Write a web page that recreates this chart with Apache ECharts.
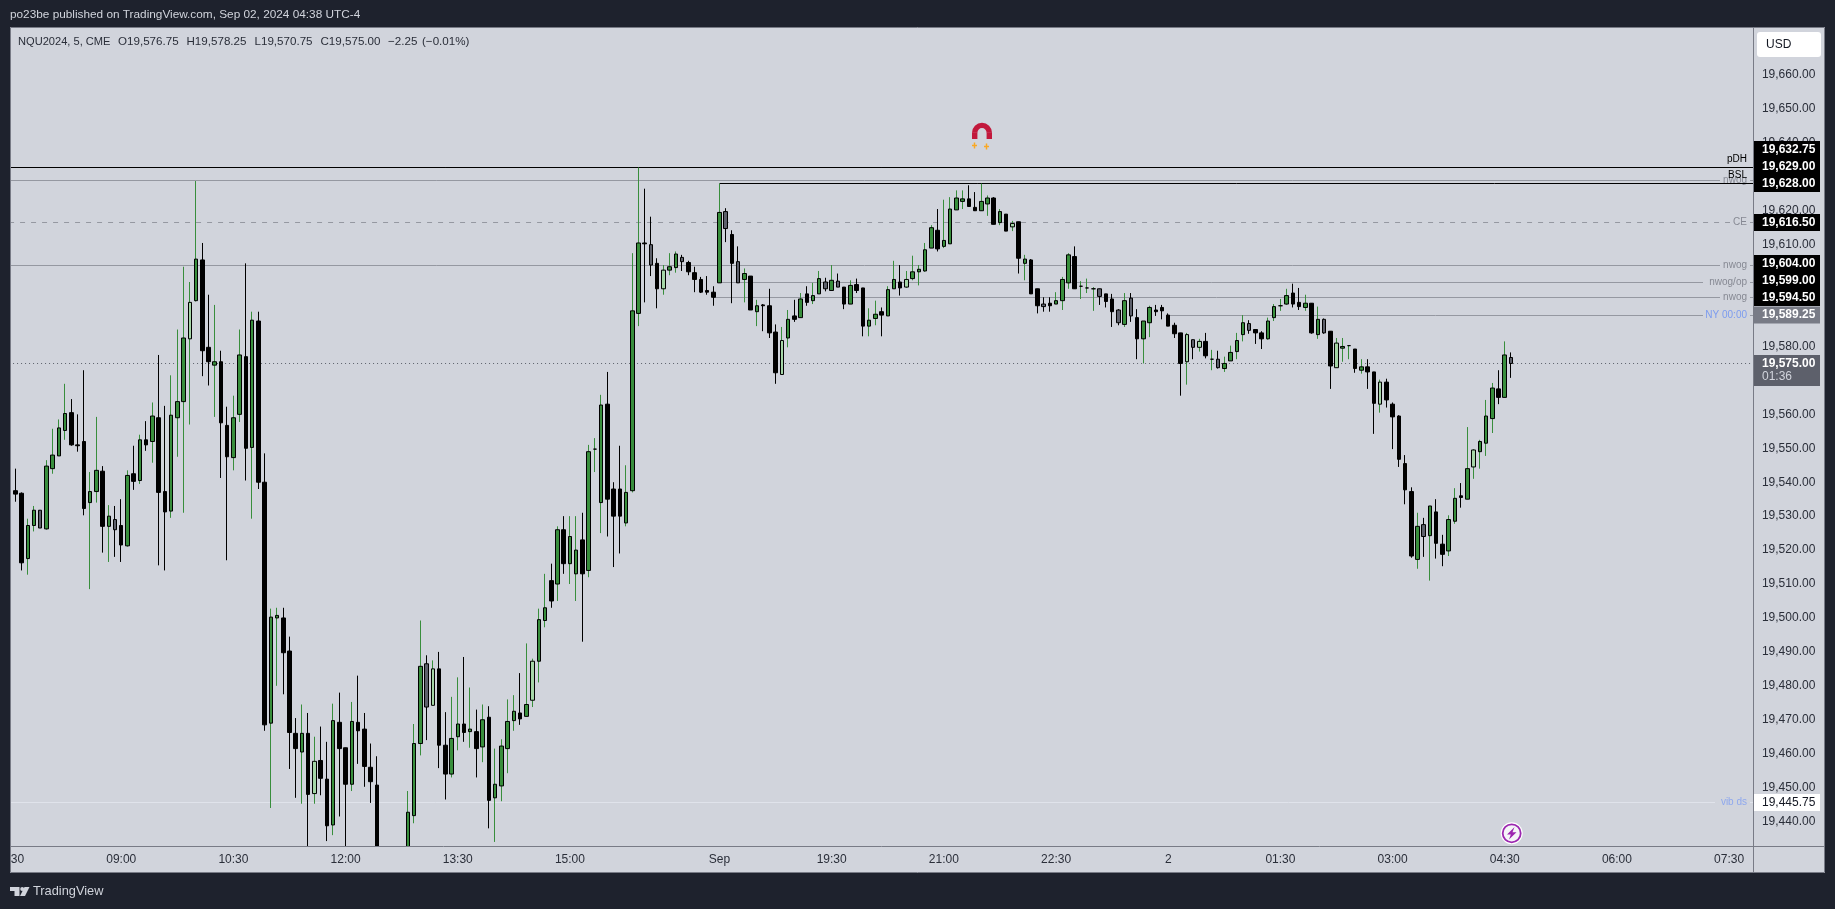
<!DOCTYPE html>
<html><head><meta charset="utf-8">
<style>html,body{margin:0;padding:0;background:#1e222d}#c{width:1835px;height:909px}</style>
<script src="https://cdn.jsdelivr.net/npm/echarts@6/dist/echarts.min.js"></script>
</head><body><div id="c"></div>
<script>
// Values. Bars run from 07:30 on Aug 30 to 04:35 on Sep 2 (5-minute, session gap before Sep).
const opens=[19532.75,19537.5,19536.75,19517.5,19527.25,19531.75,19526.25,19544,19547.75,19555.25,19560.5,19551,19552,19534,19537.25,19543.25,19527,19529,19527.25,19521.25,19542.5,19540.5,19552.5,19552,19559,19537.25,19531.5,19559,19563.75,19582.25,19593.5,19605.5,19579.75,19574.5,19575.5,19556.75,19547.25,19560,19577,19550.25,19587.5,19540,19469,19500,19500,19490.25,19466,19460.5,19466,19448.25,19458,19452.5,19439,19469.25,19461.75,19451,19469.25,19467.25,19456,19450.75,19424,19418,19414,19420,19425,19441.75,19463,19486.5,19474.25,19485,19462.5,19454,19465,19468.75,19466.5,19466.5,19462,19470.75,19447,19450.5,19461.5,19469.75,19472,19471,19475.75,19487.25,19499.25,19511,19510,19526,19516,19513,19523,19514,19549.75,19534,19563,19538,19538,19528,19537.5,19589.75,19610.5,19610,19604.5,19597,19602.5,19603.25,19606.25,19604.75,19601.75,19599.75,19596.5,19596,19598.75,19619.75,19613,19605,19599.75,19600.75,19590.25,19592.25,19592,19584.25,19571.75,19582.5,19589,19588.5,19595.5,19593.5,19595.5,19599,19596.5,19599.25,19597.5,19592.5,19598.25,19597.25,19586,19588.25,19590.25,19589,19597,19599,19597.5,19600,19602,19602.25,19609,19614.25,19609.5,19610.25,19620.25,19622.75,19623.5,19621,19620,19622,19623.75,19616.5,19619,19615.25,19616.75,19604.5,19605.5,19597,19592.5,19592.75,19592.5,19593.5,19598.75,19606.5,19597.75,19597.25,19597,19597,19595.5,19594,19590.75,19586.5,19594.25,19588.5,19582.25,19587,19590.75,19591.5,19589.25,19586.25,19584,19575.5,19582,19579.75,19581.5,19576.25,19576.25,19573.5,19575.75,19578.5,19583.5,19586.75,19585,19584,19582.25,19588.5,19592,19592.5,19595.75,19593,19591.5,19592.75,19583.5,19588,19584.5,19573.75,19579.5,19580.25,19579.25,19573,19574,19572.5,19563,19569.5,19563,19559.5,19545.5,19537.25,19517.25,19527.5,19524.25,19531.25,19521.75,19519.75,19528.5,19536,19535,19544.5,19549,19551.5,19558.75,19567.5,19565,19576.75];
const closes=[19537.25,19536.5,19516.25,19527.25,19531.75,19526.5,19544.75,19548,19556,19560.25,19551,19550.75,19532.25,19537.25,19543.5,19527,19530,19526,19521.5,19542,19540.25,19552.5,19551,19559.5,19537,19531.25,19559.75,19563.75,19582.5,19593,19605.75,19578.75,19575.5,19575.5,19557.5,19547.5,19559,19577.5,19550,19587.75,19540,19468.5,19500.25,19500.75,19489.75,19466.25,19461.5,19466,19448,19457.75,19452.75,19438.75,19469.75,19461.5,19451,19469.5,19466.75,19456.25,19451.75,19424,19418,19414,19420,19425,19442.75,19463,19485.75,19473.75,19485,19462.5,19454,19464.5,19468.75,19466.25,19467.25,19461.5,19470,19446.25,19451,19462.25,19469.5,19472.5,19470.25,19474.5,19487.25,19499.5,19503,19505,19526,19516,19524,19520,19513,19549,19549.75,19562.75,19535,19530,19530,19537,19590.5,19610.5,19610.25,19604,19597,19602.5,19603.5,19607.25,19605,19602,19599.75,19596,19596,19594.5,19619.5,19614.75,19604.5,19598.75,19601.5,19590.75,19592,19592,19584,19572.25,19581.75,19588,19588,19594,19593,19595,19600,19597,19599.5,19597.5,19592.5,19598,19596.5,19586,19587.75,19589.5,19589.25,19596.75,19599.75,19597.25,19599.75,19602,19602.75,19608.5,19615,19608.75,19611.25,19620.5,19623.75,19623.5,19621.25,19620,19622.75,19623.75,19616,19619.75,19614,19616.25,19606,19605.75,19595.5,19592,19591.75,19592,19593.5,19599.75,19607,19597,19597.75,19597.25,19597,19594.75,19593.25,19590.25,19587,19593.5,19589,19582.25,19587.5,19591.5,19590.25,19590.5,19586,19583.75,19575,19583.5,19579.75,19581.5,19577.25,19576.25,19573.75,19575,19578.25,19581.75,19587,19584.75,19584,19582.25,19587.5,19591.75,19592,19595,19592.5,19591.75,19592.75,19584,19588,19584,19574.25,19581,19580,19580.25,19573.5,19574,19572.5,19563.25,19569.5,19564.25,19559.25,19546.75,19537.75,19518.25,19527,19524,19533,19522,19518.75,19529,19535.25,19535.5,19544,19549.5,19552,19559.5,19567.75,19565,19577.5,19575];
const lows=[19532.75,19534.25,19514,19512.75,19525.5,19526.5,19526,19542.5,19547.75,19552.5,19550.75,19549,19530.25,19508.5,19534,19519.25,19516.5,19518,19516.5,19521,19537.75,19539.5,19549.25,19545.75,19515.5,19514,19529.5,19547.5,19531,19557,19593.25,19571.25,19568.5,19559.25,19541.25,19517,19543.5,19557.75,19540.5,19529.25,19538,19466.75,19444,19480,19477.5,19455.5,19447,19445.25,19425,19445.25,19447.75,19434.25,19436,19441.5,19425,19449,19457,19450.25,19445.5,19420,19413,19410,19411,19416,19423,19439.5,19459.5,19464,19474.25,19455.75,19446.5,19453,19461,19463.5,19461.75,19453,19457.5,19438,19434,19446,19454.25,19466.75,19468.5,19471,19473.75,19481,19497.25,19503,19505,19513,19510,19505,19493,19512,19543,19525,19524,19515,19519,19527,19537,19586,19593,19600.75,19591.25,19595.25,19601,19601.75,19602.25,19601,19596,19595.75,19595.25,19592,19598.75,19610.75,19592.75,19598.75,19593,19590.75,19586,19584.5,19582.5,19569,19571.75,19579.75,19587.25,19588.5,19592,19592.5,19595.5,19596.25,19596.5,19597.5,19591,19592.5,19595.75,19583,19583,19586.25,19583,19589,19597,19595,19597.25,19599.5,19598,19602,19609,19608,19609,19610.25,19620.25,19620.5,19621.25,19620,19620,19618.5,19616,19615.75,19614,19614,19601.5,19599.5,19595.5,19589.75,19590.25,19590.25,19592.5,19590.75,19597,19597,19594,19595.75,19590.5,19592.25,19591.5,19585.75,19586.25,19585.75,19587.25,19576.25,19575,19582.75,19589,19588,19586,19582.5,19565.5,19568.75,19576.25,19578.5,19576.5,19573,19573.5,19572.5,19575.75,19576.25,19581.5,19583.75,19580.75,19579.25,19582,19587.5,19590.5,19592.25,19591.5,19590.75,19590.5,19583.75,19582.25,19583.75,19567.5,19573.75,19575.5,19576.25,19572.25,19572,19567.5,19554.25,19560.5,19562,19549.75,19544.5,19533.5,19517.75,19514.5,19518,19511,19517.5,19515.25,19518.25,19527.75,19532.5,19535,19541,19544,19547.75,19554.5,19563,19565,19570.75];
const highs=[19537.25,19544,19537,19529.25,19533,19531.75,19546.5,19555.75,19558.5,19569,19564.5,19560,19573,19543,19559.25,19544.75,19533.25,19533,19535,19543.5,19550.75,19554,19558,19563.5,19577.5,19562.5,19571.5,19585,19603.5,19599,19628.75,19610.5,19595.25,19592.25,19578.75,19562.25,19565.5,19585,19604.5,19590.25,19590.25,19548.5,19502.75,19503,19503,19494.5,19470.5,19474.5,19472,19465,19468,19463.5,19474.75,19478,19461.75,19475.25,19483,19472,19463,19459.25,19429,19424,19426,19430,19449,19468.75,19499.25,19489,19487.5,19490,19472.25,19476.75,19482.5,19488.5,19479.5,19473,19474.5,19474,19461.5,19464.25,19476,19477.25,19483.75,19492.5,19488,19502.75,19513,19516,19527,19530,19530,19530,19531,19551,19553,19565.75,19572.5,19540,19550.75,19545,19607.5,19632.75,19626.5,19618.25,19606,19604,19607.5,19608,19607,19605.25,19603.5,19600.5,19600.75,19597.75,19628,19620.75,19614.25,19609.5,19603,19600.75,19593.75,19592.5,19597,19586.5,19585.75,19590.75,19593.75,19595.75,19597.75,19598.75,19602.25,19600.25,19604,19601.5,19597.5,19599.5,19600,19597.25,19591.25,19593.5,19591.5,19597.75,19605.25,19604,19602.25,19606.75,19604,19610.5,19615.75,19620.5,19623.25,19624,19626,19626,19627.5,19625.5,19628,19624.5,19624,19620.5,19619,19617,19616.75,19607,19605.75,19597,19594.5,19594.5,19596,19600.5,19607.5,19609.5,19599.25,19600,19597.5,19597,19595.5,19595.5,19591,19595.75,19595.75,19591,19587.5,19592,19592.25,19592.25,19589.75,19587,19584,19584,19582,19582.25,19584,19579,19578.75,19577,19580.25,19584,19589.25,19587.75,19585,19584.5,19588.5,19592.5,19594,19597,19598.5,19597.25,19595.25,19592.75,19591.75,19588.25,19584.5,19582.5,19582.5,19580.25,19579.25,19576.25,19576.25,19572.5,19570.25,19570.5,19563.5,19559.75,19548,19538.5,19531,19529.5,19533,19535,19524.5,19530.25,19538.25,19539.75,19556.25,19549.75,19552.5,19564.25,19569.25,19573,19581.5,19578.25];
const lightBars=[28,48,67,83,104,123,143,160,188,190,212,219,234];
const grayBars=[4,16,66,102,107,114,116,130,132,165,174,177,179,189,193,198,210,226,240];

const timeTicks={0:'07:30',18:'09:00',36:'10:30',54:'12:00',72:'13:30',90:'15:00',114:'Sep',132:'19:30',150:'21:00',168:'22:30',186:'2',204:'01:30',222:'03:00',240:'04:30',258:'06:00',276:'07:30'};
const priceTicks=[19440,19450,19460,19470,19480,19490,19500,19510,19520,19530,19540,19550,19560,19570,19580,19590,19600,19610,19620,19630,19640,19650,19660];
const levelPrices=[19632.75,19629,19628,19616.5,19604,19599,19594.5,19589.25,19575,19445.75];
const levelNames=['pDH','nwog','BSL','CE','nwog','nwog/op','nwog','NY 00:00','','vib ds'];
const levelStarts=[0,0,114,0,0,114,113,186,0,0];
const legendParts=['NQU2024, 5, CME','O19,576.75','H19,578.25','L19,570.75','C19,575.00','\u22122.25','(\u22120.01%)'];
const tagTexts=['19,632.75','19,629.00','19,628.00','19,616.50','19,604.00','19,599.00','19,594.50','19,589.25','19,575.00','19,445.75'];

const categories=[];
for(let k=0;k<281;k++){categories.push(timeTicks[k]||String(k));}
const BAND=6.232,GL=5.95,GT=28,GH=818;
const UI='"Liberation Sans",Arial,sans-serif';
const GREEN='#388e3c',LIGHT='#a5d6a7',GRAY='#5d606b',BLACK='#000000',LINE='#9598a1',LABELGRAY='#868993',FRAME='#1e222d',PANEL='#d1d4dc',EDGE='#787b86',INK='#2a2e39';

const wickData=[],bodyData=[];
opens.forEach((o,k)=>{
  const i=k-1,c=closes[k],up=c>=o,col=up?GREEN:BLACK;
  wickData.push({value:[o,c,lows[k],highs[k]],itemStyle:{color:col,color0:col,borderColor:col,borderColor0:col}});
  let fill=up?GREEN:BLACK;
  if(lightBars.includes(i))fill=LIGHT;
  if(grayBars.includes(i))fill=GRAY;
  bodyData.push({value:[o,c,Math.min(o,c),Math.max(o,c)],itemStyle:{color:fill,color0:fill,borderColor:BLACK,borderColor0:BLACK}});
});

const levelLook=[
 {c:BLACK,end:1753,txt:BLACK,dy:-8},
 {c:LINE,end:1720,txt:LABELGRAY,dy:0,stub:1},
 {c:BLACK,end:1753,txt:BLACK,dy:-8},
 {c:LINE,end:1730,txt:LABELGRAY,dy:0,stub:1,dash:[5,6]},
 {c:LINE,end:1720,txt:LABELGRAY,dy:0,stub:1},
 {c:LINE,end:1703,txt:LABELGRAY,dy:0,stub:1},
 {c:LINE,end:1720,txt:LABELGRAY,dy:0,stub:1},
 {c:LINE,end:1703,txt:'#7c9cef',dy:0,stub:1},
 {c:GRAY,end:1753,txt:INK,dy:0,dash:[1,3]},
 {c:'#e0e3eb',end:1715,txt:'#8fa8ee',dy:0,stub:1}
];
function renderLevel(params,api){
  const k=params.dataIndex,look=levelLook[k];
  const p=api.coord([api.value(0),api.value(1)]);
  const y=Math.floor(p[1])+0.5;
  const kids=[{type:'line',shape:{x1:p[0],y1:y,x2:look.end,y2:y},style:{stroke:look.c,lineWidth:1,lineDash:look.dash||null}}];
  if(look.stub)kids.push({type:'line',shape:{x1:1750,y1:y,x2:1753,y2:y},style:{stroke:look.c,lineWidth:1}});
  if(levelNames[k])kids.push({type:'text',style:{text:levelNames[k],x:1747,y:y+look.dy,align:'right',verticalAlign:'middle',font:'10px '+UI,fill:look.txt}});
  return {type:'group',children:kids};
}

const g=[];
function rect(x,y,w,h,fill,z,r){g.push({type:'rect',silent:true,z:z,shape:{x,y,width:w,height:h,r:r||0},style:{fill}});}
function text(t,x,y,fill,z,font,align){g.push({type:'text',silent:true,z:z,style:{text:t,x,y,fill,font:font||'12px '+UI,align:align||'left',verticalAlign:'middle'}});}
function seg(x1,y1,x2,y2,stroke,z,w){g.push({type:'line',silent:true,z:z,shape:{x1,y1,x2,y2},style:{stroke,lineWidth:w||1}});}
// panel under the time axis hides what runs past the plot bottom
rect(0,846.5,1835,27,PANEL,4);
// frame
rect(0,0,1835,27,FRAME,100);rect(0,873,1835,36,FRAME,100);rect(0,0,10,909,FRAME,100);rect(1825,0,10,909,FRAME,100);
g.push({type:'rect',silent:true,z:101,shape:{x:10.5,y:27.5,width:1814,height:845},style:{fill:'none',stroke:EDGE,lineWidth:1}});
seg(1753,846.5,1825,846.5,EDGE,50);
seg(1753.5,846,1753.5,873,EDGE,50);
text('po23be published on TradingView.com, Sep 02, 2024 04:38 UTC-4',10,15,PANEL,102,'11.8px '+UI);
text('TradingView',33,891,PANEL,102,'12.8px '+UI);
g.push({type:'polygon',silent:true,z:102,shape:{points:[[10,887],[19.5,887],[19.5,896],[14.5,896],[14.5,891],[10,891]]},style:{fill:PANEL}});
g.push({type:'circle',silent:true,z:102,shape:{cx:22.2,cy:889,r:2},style:{fill:PANEL}});
g.push({type:'polygon',silent:true,z:102,shape:{points:[[29.5,887],[25,896],[20,896],[24.5,887]]},style:{fill:PANEL}});
// legend
[18,118,186.5,254.5,320.5,388,422].forEach((x,k)=>text(legendParts[k],x,42,INK,40,(k===0?'11.1px ':'11.6px ')+UI));
// USD
rect(1757,32,64,25,'#ffffff',50,3);
text('USD',1766,45,'#131722',51);
// price tags
const tagBox=[[141,BLACK],[158,BLACK],[175,BLACK],[214,BLACK],[255,BLACK],[272,BLACK],[289,BLACK],[306.5,EDGE],[355,GRAY],[794,'#ffffff']];
tagBox.forEach((b,k)=>{
  const h=k===8?31:17;
  rect(1754,b[0],66,h,b[1],60);
  text(tagTexts[k],1762,b[0]+8.5,k===9?'#131722':'#ffffff',61,(k===9?'':'bold ')+'12px '+UI);
});
text('01:36',1762,377,PANEL,61);
// magnet
g.push({type:'arc',silent:true,z:30,shape:{cx:982,cy:132.7,r:7.3,startAngle:Math.PI,endAngle:2*Math.PI,clockwise:true},style:{stroke:'#c2183c',lineWidth:5.4,fill:'none'}});
rect(972,132.5,5.4,6.5,'#c2183c',30);rect(986.6,132.5,5.4,6.5,'#c2183c',30);
[[974.5,145.5],[986.5,146.5]].forEach(p=>{seg(p[0]-2.5,p[1],p[0]+2.5,p[1],'#f9a825',30,1.5);seg(p[0],p[1]-3,p[0],p[1]+3,'#f9a825',30,1.5);});
// lightning badge
g.push({type:'circle',silent:true,z:30,shape:{cx:1511.7,cy:833.3,r:11},style:{fill:'#ffffff'}});
g.push({type:'circle',silent:true,z:31,shape:{cx:1511.7,cy:833.3,r:9},style:{fill:'#f5f5f8',stroke:'#9c27b0',lineWidth:1.8}});
g.push({type:'polygon',silent:true,z:32,shape:{points:[[1514.5,827],[1507,834.5],[1510.8,834.5],[1509,839.5],[1516.5,832.3],[1512.5,832.3]]},style:{fill:'#9c27b0'}});

const chart=echarts.init(document.getElementById('c'),null,{renderer:'canvas'});
chart.setOption({
  animation:false,
  backgroundColor:PANEL,
  grid:{left:GL,top:GT,width:281*BAND,height:GH,containLabel:false,outerBoundsMode:'none'},
  xAxis:{type:'category',data:categories,boundaryGap:true,z:5,
    axisLine:{lineStyle:{color:EDGE,width:1}},axisTick:{show:false},splitLine:{show:false},
    axisLabel:{interval:(idx)=>timeTicks[idx]!==undefined,formatter:(v,idx)=>timeTicks[idx]||'',color:INK,fontSize:12,fontFamily:'Liberation Sans',margin:8,hideOverlap:false}},
  yAxis:{type:'value',position:'right',offset:-4.2,min:19432.8,max:19673.85,scale:true,z:5,
    axisLine:{show:true,onZero:false,lineStyle:{color:EDGE,width:1}},axisTick:{show:false},splitLine:{show:false},
    axisLabel:{customValues:priceTicks,formatter:v=>v.toLocaleString('en-US',{minimumFractionDigits:2,maximumFractionDigits:2}),color:INK,fontSize:12,fontFamily:'Liberation Sans',margin:9}},
  graphic:{elements:g},
  series:[
    {type:'custom',name:'levels',z:1,clip:false,silent:true,encode:{x:0,y:1},data:levelPrices.map((p,k)=>[levelStarts[k],p]),renderItem:renderLevel},
    {type:'candlestick',name:'wicks',z:2,clip:true,silent:true,barWidth:1,itemStyle:{borderWidth:1},data:wickData},
    {type:'candlestick',name:'bodies',z:3,clip:true,silent:true,barWidth:4,itemStyle:{borderWidth:1},data:bodyData}
  ]
});
</script></body></html>
